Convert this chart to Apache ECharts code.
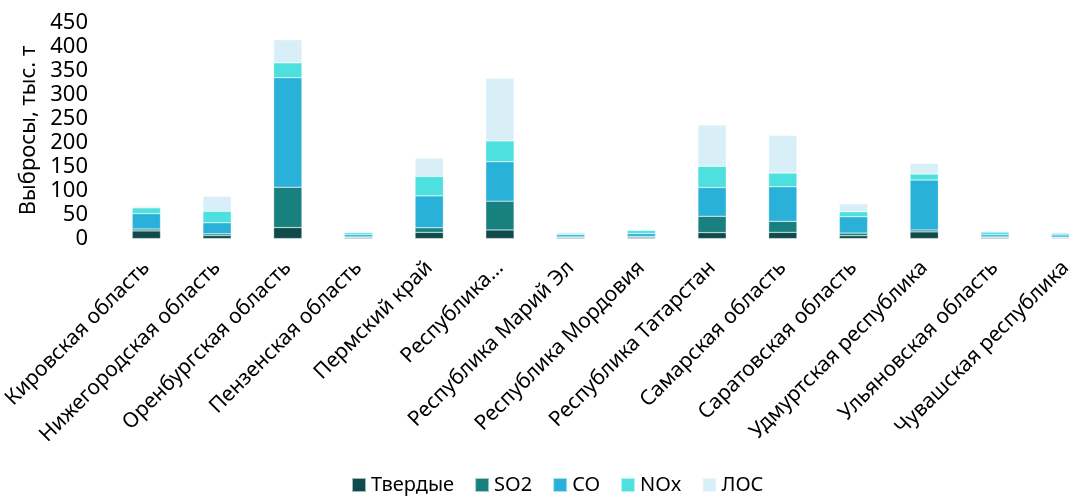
<!DOCTYPE html>
<html>
<head>
<meta charset="utf-8">
<script src="https://cdn.jsdelivr.net/npm/echarts@6/dist/echarts.min.js"></script>
<style>
html,body{margin:0;padding:0;background:#fff;}
#chart{width:1069px;height:497px;}
</style>
</head>
<body>
<div id="chart"></div>
<script>
const categories = ["Кировская область","Нижегородская область","Оренбургская область","Пензенская область","Пермский край","Республика…","Республика Марий Эл","Республика Мордовия","Республика Татарстан","Самарская область","Саратовская область","Удмуртская республика","Ульяновская область","Чувашская республика"];
const seriesNames = ["Твердые","SO2","CO","NOx","ЛОС"];
const tverdye = [16, 6.5, 23, 2, 13, 18, 2, 2.5, 12.5, 13, 6, 14, 2, 1.5];
const so2 = [4, 3.5, 84, 1.5, 9.5, 60, 1.5, 2, 34, 23, 5.5, 4, 1.5, 1.5];
const co = [32, 23, 228, 5, 66.5, 82, 4.5, 6, 60, 72, 34, 104, 4.5, 4.5];
const nox = [12, 24, 31, 4, 40.5, 43.5, 3, 6.5, 44, 28.5, 10.5, 12.5, 5.5, 3.5];
const los = [3.5, 31, 48, 2, 38, 130.5, 2, 2, 86, 78, 16.5, 22, 2, 2];
const yTicks = {min: 0, max: 450, interval: 50};
const colors = ["#0f4b4b","#198080","#29b1da","#4de0df","#d8eff8"];

const FONT = "Noto Sans";
const seriesData = [tverdye, so2, co, nox, los];
const chart = echarts.init(document.getElementById('chart'), null, {renderer:'canvas'});
chart.setOption({
  animation: false,
  backgroundColor: '#fff',
  textStyle: {fontFamily: FONT, color: '#000'},
  grid: {left: 111, right: -32, top: 22.5, bottom: 258.4, containLabel: false, outerBoundsMode: 'none'},
  legend: {
    top: 475, left: 351, padding: 0,
    itemWidth: 14, itemHeight: 14, itemGap: 20,
    icon: 'rect',
    textStyle: {fontFamily: FONT, fontSize: 20, color: '#000'},
    data: seriesNames
  },
  xAxis: {
    type: 'category',
    data: categories,
    axisLine: {show: false},
    axisTick: {show: false},
    axisLabel: {interval: 0, rotate: 45, fontSize: 21, fontFamily: FONT, color: '#000', margin: 26}
  },
  yAxis: {
    type: 'value',
    min: yTicks.min, max: yTicks.max, interval: yTicks.interval,
    name: 'Выбросы, тыс. т',
    nameLocation: 'middle',
    nameGap: 70,
    nameTextStyle: {fontFamily: FONT, fontSize: 22, color: '#000'},
    axisLine: {show: false},
    axisTick: {show: false},
    splitLine: {show: false},
    axisLabel: {fontSize: 22, fontFamily: FONT, color: '#000', margin: 23}
  },
  series: seriesNames.map((n, i) => ({
    name: n,
    type: 'bar',
    stack: 'total',
    barCategoryGap: '60%',
    data: seriesData[i],
    itemStyle: {color: colors[i], borderColor: 'rgba(255,255,255,0.6)', borderWidth: 0.5}
  }))
});
</script>
</body>
</html>
